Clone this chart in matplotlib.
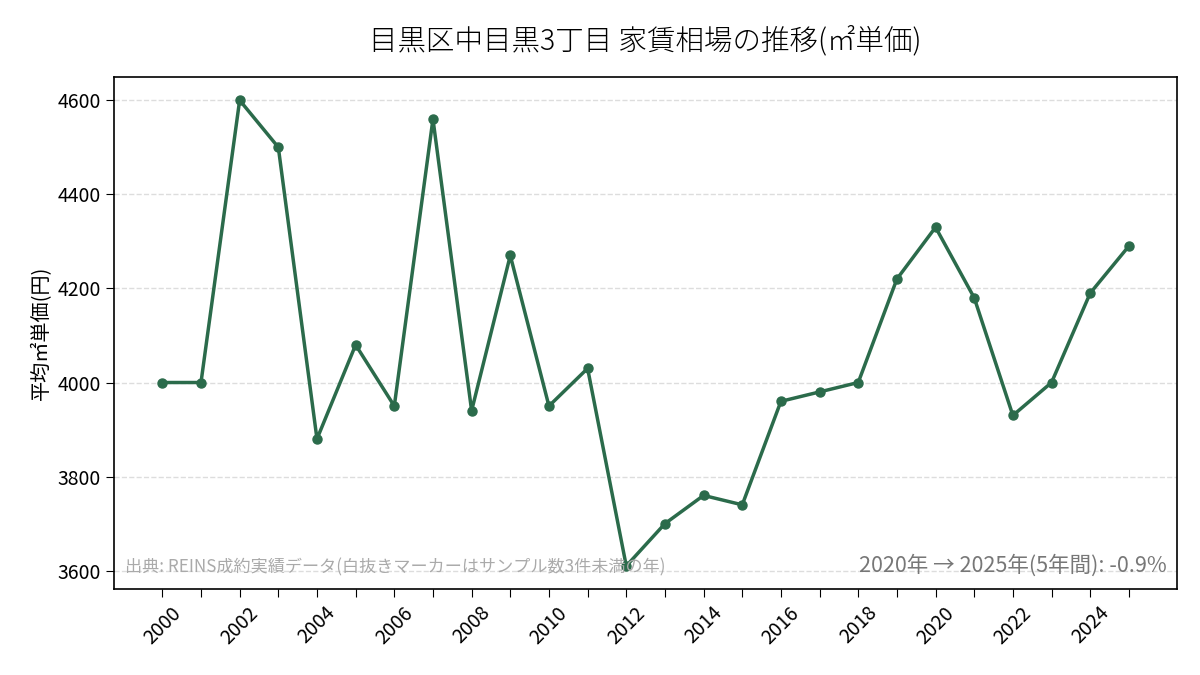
import numpy as np
import matplotlib
matplotlib.use('Agg')
import matplotlib.pyplot as plt

plt.rcParams['font.family'] = ['Noto Sans CJK JP', 'DejaVu Sans']

# Yearly average rent per m2 (yen)
years = list(range(2000, 2026))
rent = [4000, 4000, 4600, 4500, 3880, 4080, 3950, 4560, 3940, 4270,
        3950, 4030, 3610, 3700, 3760, 3740, 3960, 3980, 4000, 4220,
        4330, 4180, 3930, 4000, 4190, 4290]

title = '目黒区中目黒3丁目 家賃相場の推移(㎡単価)'
ylabel = '平均㎡単価(円)'
source = '出典: REINS成約実績データ(白抜きマーカーはサンプル数3件未満の年)'

line_color = '#2b6b4b'

fig, ax = plt.subplots(figsize=(12, 6.75), dpi=100)
fig.subplots_adjust(left=0.095, right=0.981, top=0.886, bottom=0.127)

ax.plot(years, rent, color=line_color, linewidth=2.5, marker='o',
        markersize=6.5, zorder=3)

ax.set_title(title, fontsize=20.5, pad=20, fontweight='light')
ax.set_ylabel(ylabel, fontsize=14.5)
ax.set_xticks(years)
ax.set_xticklabels([str(y) if y % 2 == 0 else '' for y in years],
                   rotation=45, fontsize=14)
ax.tick_params(axis='x', length=6)
ax.tick_params(axis='y', labelsize=14, length=6)
ax.set_yticks([3600, 3800, 4000, 4200, 4400, 4600])
ax.grid(axis='y', linestyle='--', color='#dddddd', linewidth=1)
ax.set_axisbelow(True)
for s in ax.spines.values():
    s.set_linewidth(1.2)

# 5-year change
change = (rent[-1] - rent[-6]) / rent[-6] * 100
ax.text(0.99, 0.025, f'{years[-6]}年 → {years[-1]}年(5年間): {change:.1f}%',
        transform=ax.transAxes, ha='right', va='bottom', fontsize=15.5,
        color='#777777', zorder=5)
ax.text(0.01, 0.025, source, transform=ax.transAxes, ha='left', va='bottom',
        fontsize=12.3, color='#aaaaaa', zorder=5)

fig.savefig('out.png', dpi=100)
